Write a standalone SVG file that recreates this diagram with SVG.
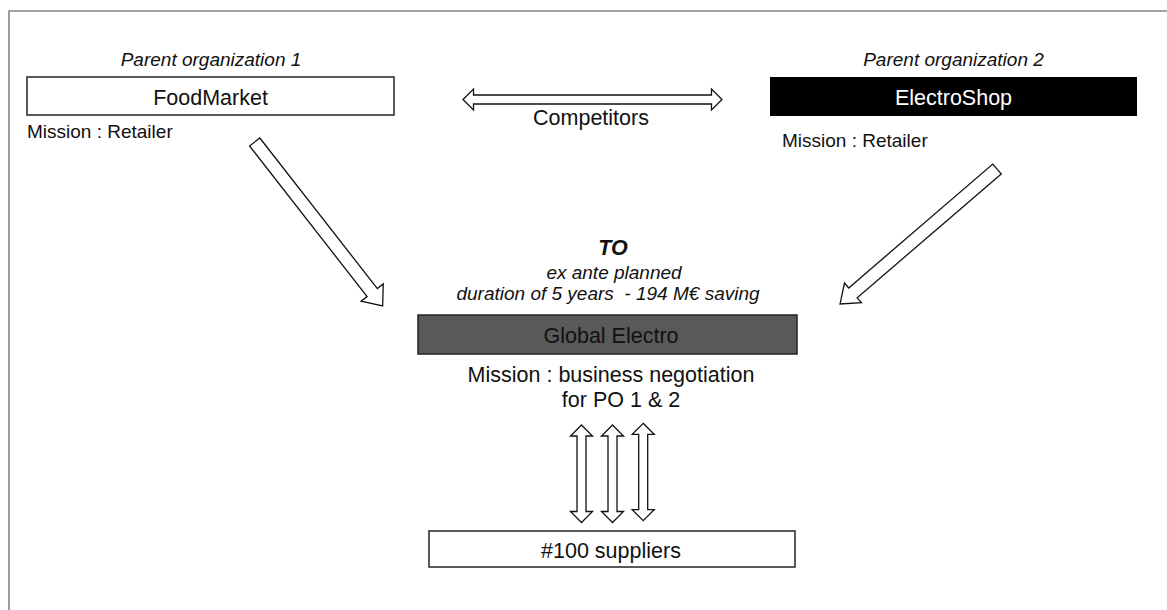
<svg xmlns="http://www.w3.org/2000/svg" width="1167" height="610" viewBox="0 0 1167 610">
<style>
text{font-family:"Liberation Sans",Arial,sans-serif;fill:#111}
.lg{font-size:21.5px}
.md{font-size:19px}
.it{font-style:italic}
.c{text-anchor:middle}
.box{stroke:#222;stroke-width:1.5}
.arr{fill:#fff;stroke:#111;stroke-width:1.3;stroke-linejoin:miter}
</style>
<rect width="1167" height="610" fill="#fff"/>
<path d="M9,615 V11 H1172" fill="none" stroke="#858585" stroke-width="1.6"/>

<g id="foodmarket">
<text class="md it c" x="211" y="66">Parent organization 1</text>
<rect class="box" x="27" y="77" width="367" height="38" fill="#fff"/>
<text class="lg c" x="210.5" y="105">FoodMarket</text>
<text class="md" x="27" y="138">Mission : Retailer</text>
</g>

<g id="electroshop">
<text class="md it c" x="953.5" y="66">Parent organization 2</text>
<rect x="770" y="77" width="367" height="39" fill="#000"/>
<text class="lg c" x="953.5" y="105" style="fill:#fff">ElectroShop</text>
<text class="md" x="782" y="147">Mission : Retailer</text>
</g>

<g id="competitors">
<text class="lg c" x="591" y="125">Competitors</text>
</g>

<g id="global-electro">
<text class="c" x="613" y="255" style="font-size:21.5px;font-weight:bold;font-style:italic">TO</text>
<text class="md it c" x="614" y="279">ex ante planned</text>
<text class="md it c" x="608" y="300" xml:space="preserve">duration of 5 years  - 194 M€ saving</text>
<rect class="box" x="418" y="315" width="379" height="39" fill="#595959"/>
<text class="lg c" x="611" y="343">Global Electro</text>
<text class="lg c" x="611" y="382">Mission : business negotiation</text>
<text class="lg c" x="621" y="407">for PO 1 &amp; 2</text>
</g>

<g id="suppliers">
<rect class="box" x="429" y="531" width="366" height="36" fill="#fff"/>
<text class="lg c" x="611" y="558">#100 suppliers</text>
</g>

<g id="connectors">
<polygon class="arr" points="463,99.5 473.5,89 473.5,95 711.5,95 711.5,89 722,99.5 711.5,110 711.5,104 473.5,104 473.5,110"/>
<polygon class="arr" transform="translate(254.7,142) rotate(52.03)" points="0,-6.5 191,-6.5 191,-14 208,0 191,14 191,6.5 0,6.5"/>
<polygon class="arr" transform="translate(997,169) rotate(139.3)" points="0,-6.5 190,-6.5 190,-13 207,0 190,13 190,6.5 0,6.5"/>
<polygon class="arr" points="581.5,425 592.5,436 586,436 586,511.5 592.5,511.5 581.5,522.5 570.5,511.5 577,511.5 577,436 570.5,436"/>
<polygon class="arr" points="612.5,425 623.5,436 617,436 617,511.5 623.5,511.5 612.5,522.5 601.5,511.5 608,511.5 608,436 601.5,436"/>
<polygon class="arr" points="643.2,423.3 654.2,434.3 647.7,434.3 647.7,509.7 654.2,509.7 643.2,520.7 632.2,509.7 638.7,509.7 638.7,434.3 632.2,434.3"/>
</g>
</svg>
